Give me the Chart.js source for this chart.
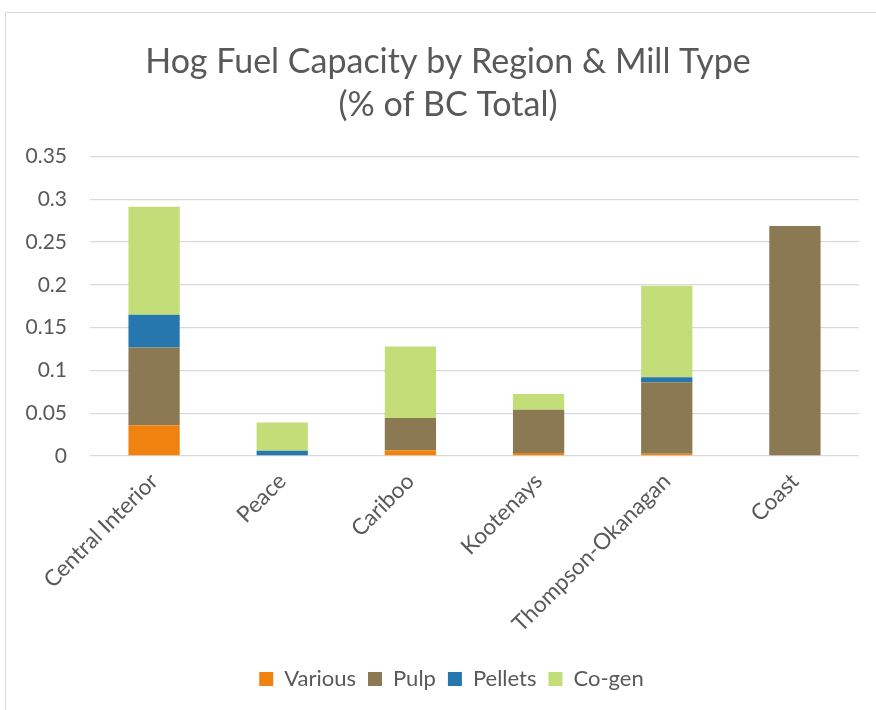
<!DOCTYPE html>
<html>
<head>
<meta charset="utf-8">
<style>
  html, body { margin: 0; padding: 0; background: #fff; }
  #wrap { width: 876px; height: 710px; position: relative; }
</style>
<script src="https://cdn.jsdelivr.net/npm/chart.js@4/dist/chart.umd.min.js"></script>
</head>
<body>
<div id="wrap"><canvas id="chart" width="876" height="710"></canvas></div>
<script>
// Regions (categories) and share of BC hog fuel capacity per mill type
const regions = ['Central Interior', 'Peace', 'Cariboo', 'Kootenays', 'Thompson-Okanagan', 'Coast'];
const various = [0.036, 0, 0.0066, 0.0035, 0.0027, 0];
const pulp    = [0.0907, 0, 0.0378, 0.0505, 0.0833, 0.2686];
const pellets = [0.0383, 0.006, 0, 0, 0.006, 0];
const cogen   = [0.126, 0.033, 0.0836, 0.0185, 0.107, 0];
const yTicks  = [0, 0.05, 0.1, 0.15, 0.2, 0.25, 0.3, 0.35];

const textColor = '#595959';
const gridColor = '#d9d9d9';
const fontFamily = 'Lato, "Open Sans", sans-serif';

// white background plus the thin frame around the chart
const framePlugin = {
  id: 'frame',
  beforeDraw(chart) {
    const ctx = chart.ctx;
    ctx.save();
    ctx.fillStyle = '#ffffff';
    ctx.fillRect(0, 0, chart.width, chart.height);
    ctx.strokeStyle = gridColor;
    ctx.lineWidth = 1;
    ctx.beginPath();
    ctx.moveTo(5.5, chart.height);
    ctx.lineTo(5.5, 12.5);
    ctx.lineTo(chart.width, 12.5);
    ctx.stroke();
    ctx.restore();
  }
};

// centre the title and legend on the whole frame rather than the padded box
const centreBlocks = {
  id: 'centreBlocks',
  afterLayout(chart) {
    const shift = (box, dx) => { if (box) { box.left += dx; box.right += dx; } };
    shift(chart.titleBlock, 13.5);
    shift(chart.legend, 17);
  }
};

const ds = (label, data, color) => ({
  label, data,
  backgroundColor: color,
  borderWidth: 0,
  categoryPercentage: 0.4,
  barPercentage: 1.0
});

new Chart(document.getElementById('chart'), {
  type: 'bar',
  data: {
    labels: regions,
    datasets: [
      ds('Various', various, '#f0820f'),
      ds('Pulp', pulp, '#8a7953'),
      ds('Pellets', pellets, '#2677ae'),
      ds('Co-gen', cogen, '#c3dd79')
    ]
  },
  options: {
    responsive: false,
    animation: false,
    layout: { padding: { left: 10, right: 17, top: 0, bottom: 10 } },
    plugins: {
      title: {
        display: true,
        text: ['Hog Fuel Capacity by Region & Mill Type', '(% of BC Total)'],
        color: textColor,
        font: { family: fontFamily, size: 34, weight: 'normal', lineHeight: 1.27 },
        padding: { top: 40, bottom: 30 }
      },
      legend: {
        position: 'bottom',
        labels: {
          color: textColor,
          font: { family: fontFamily, size: 22 },
          boxWidth: 14,
          boxHeight: 14,
          padding: 12
        }
      },
      tooltip: { enabled: false }
    },
    scales: {
      x: {
        stacked: true,
        grid: { display: false, drawTicks: false },
        border: { display: false },
        ticks: {
          color: textColor,
          font: { family: fontFamily, size: 22.5 },
          minRotation: 45,
          maxRotation: 45,
          padding: 12
        },
        afterFit(scale) { scale.height = 200; }
      },
      y: {
        stacked: true,
        min: 0,
        max: 0.35,
        grid: { color: gridColor, lineWidth: 1.3, drawTicks: false },
        border: { display: false },
        afterBuildTicks(scale) { scale.ticks = yTicks.map(v => ({ value: v })); },
        ticks: {
          color: textColor,
          font: { family: fontFamily, size: 21 },
          padding: 23,
          callback: v => String(v)
        },
        afterFit(scale) { scale.width = 80; }
      }
    }
  },
  plugins: [framePlugin, centreBlocks]
});
</script>
</body>
</html>
